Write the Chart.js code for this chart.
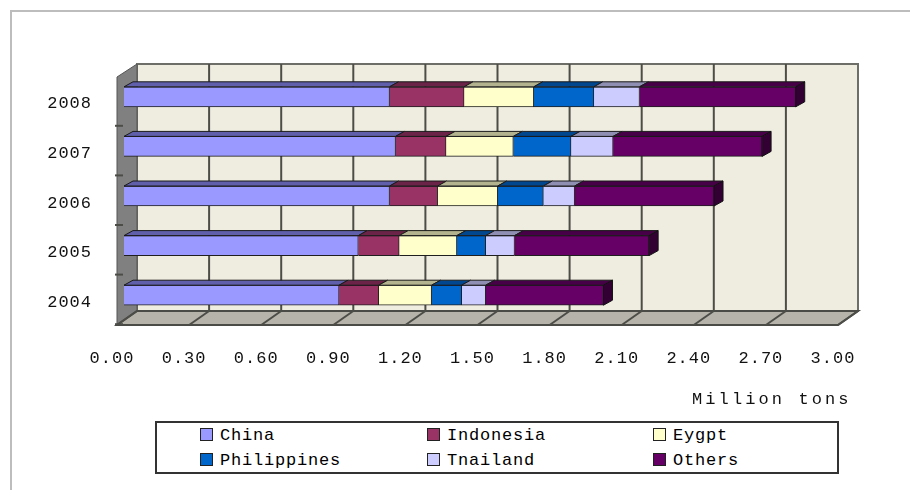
<!DOCTYPE html>
<html>
<head>
<meta charset="utf-8">
<script src="https://cdn.jsdelivr.net/npm/chart.js@4"></script>
<style>
  html, body { margin: 0; padding: 0; background: #fff; }
  #wrap { position: relative; width: 910px; height: 490px; overflow: hidden; filter: blur(0.5px); }
  #frame { position: absolute; left: 10px; top: 10px; width: 900px; height: 480px;
    border-top: 2px solid #bdbdbd; border-left: 2px solid #bdbdbd; box-sizing: border-box; }
  canvas { position: absolute; left: 0; top: 0; }
  #unit { position: absolute; left: 692px; top: 390px; color: #111;
    font: 17px "Liberation Mono", monospace; letter-spacing: 3.1px; white-space: nowrap; }
  #legend { position: absolute; left: 155px; top: 421px; width: 684px; height: 53px;
    border: 2px solid #333; box-sizing: border-box; background: #fff; }
  #legend div { position: absolute; color: #000; white-space: nowrap;
    font: 17px "Liberation Mono", monospace; letter-spacing: 0.8px; line-height: 18px; }
  #legend i { position: absolute; width: 11px; height: 11px; border: 1px solid #222; }
</style>
</head>
<body>
<div id="wrap">
  <div id="frame"></div>
  <canvas id="chart" width="910" height="490"></canvas>
  <div id="unit">Million tons</div>
  <div id="legend"></div>
</div>
<script>
const years = ['2008', '2007', '2006', '2005', '2004']
const xTicks = ['0.00', '0.30', '0.60', '0.90', '1.20', '1.50', '1.80', '2.10', '2.40', '2.70', '3.00']

const china = [1.105, 1.13, 1.105, 0.975, 0.895]
const indonesia = [0.31, 0.21, 0.20, 0.17, 0.165]
const egypt = [0.29, 0.28, 0.25, 0.24, 0.22]
const philippines = [0.25, 0.24, 0.19, 0.12, 0.125]
const thailand = [0.19, 0.175, 0.13, 0.12, 0.10]
const others = [0.65, 0.62, 0.58, 0.56, 0.49]

const seriesNames = ['China', 'Indonesia', 'Eygpt', 'Philippines', 'Tnailand', 'Others']
const seriesValues = [china, indonesia, egypt, philippines, thailand, others]
const colors = ['#9999ff', '#993366', '#ffffcc', '#0066cc', '#ccccff', '#660066']
const topColors = ['#5f5fab', '#6b2447', '#b3b38f', '#00478f', '#8f8fb3', '#470047']

// depth of the fake 3D box and of the bars, in px
const boxDepth = { x: 20, y: 14 }
const barDepth = { x: 9, y: 5 }
const frontShift = 7

function poly(ctx, pts, fill, stroke, width) {
  ctx.beginPath()
  pts.forEach((p, i) => i ? ctx.lineTo(p[0], p[1]) : ctx.moveTo(p[0], p[1]))
  ctx.closePath()
  if (fill) { ctx.fillStyle = fill; ctx.fill() }
  if (stroke) { ctx.strokeStyle = stroke; ctx.lineWidth = width || 1; ctx.stroke() }
}

const letterSpacing = {
  id: 'letterSpacing',
  beforeDraw(chart) { chart.ctx.letterSpacing = '1px' }
}

const box3d = {
  id: 'box3d',
  beforeDatasetsDraw(chart) {
    const ctx = chart.ctx
    const a = chart.chartArea
    const x = chart.scales.x
    const y = chart.scales.y
    const fl = a.left - frontShift, fr = a.right - frontShift
    const ft = 77, fb = 325
    const bl = fl + boxDepth.x, br = fr + boxDepth.x
    const bt = ft - boxDepth.y + 1, bb = fb - boxDepth.y
    ctx.save()
    poly(ctx, [[bl, bt], [br, bt], [br, bb], [bl, bb]], '#efede0', '#6e6e68', 2)
    poly(ctx, [[fl, ft], [bl, bt], [bl, bb], [fl, fb]], '#808080', '#555', 1)
    poly(ctx, [[fl, fb], [fr, fb], [br, bb], [bl, bb]], '#b6b3aa', '#4a4a46', 2)

    ctx.strokeStyle = '#4d4d48'
    ctx.lineWidth = 2
    x.ticks.forEach((t, i) => {
      const px = x.getPixelForTick(i) - frontShift
      if (i > 0 && i < x.ticks.length - 1) {
        ctx.beginPath()
        ctx.moveTo(px + boxDepth.x, bt)
        ctx.lineTo(px + boxDepth.x, bb)
        ctx.stroke()
      }
      ctx.beginPath()
      ctx.moveTo(px + boxDepth.x, bb)
      ctx.lineTo(px, fb)
      ctx.stroke()
    })
    // left wall tick marks, between the categories
    years.forEach((_, i) => {
      const py = y.getPixelForTick(i) + 29
      ctx.beginPath()
      ctx.moveTo(fl - 2, py)
      ctx.lineTo(fl + 6, py)
      ctx.stroke()
    })
    ctx.restore()
  },
  afterDatasetsDraw(chart) {
    const ctx = chart.ctx
    ctx.save()
    chart.data.datasets.forEach((ds, d) => {
      chart.getDatasetMeta(d).data.forEach(bar => {
        const top = bar.y - bar.height / 2
        const bot = bar.y + bar.height / 2
        poly(ctx, [[bar.base, top], [bar.x, top], [bar.x + barDepth.x, top - barDepth.y], [bar.base + barDepth.x, top - barDepth.y]],
          topColors[d], '#1a1a1a', 1)
        if (d === chart.data.datasets.length - 1) {
          poly(ctx, [[bar.x, top], [bar.x + barDepth.x, top - barDepth.y], [bar.x + barDepth.x, bot - barDepth.y], [bar.x, bot]],
            '#330033', '#111', 1)
        }
      })
    })
    ctx.restore()
  }
}

new Chart(document.getElementById('chart'), {
  type: 'bar',
  data: {
    labels: years,
    datasets: seriesNames.map((name, i) => ({
      label: name,
      data: seriesValues[i],
      backgroundColor: colors[i],
      borderColor: '#1f1f1f',
      borderWidth: 1,
      barThickness: 20
    }))
  },
  options: {
    indexAxis: 'y',
    responsive: false,
    animation: false,
    layout: { padding: { top: 72, right: 65, bottom: 0, left: 0 } },
    plugins: { legend: { display: false }, tooltip: { enabled: false } },
    scales: {
      x: {
        stacked: true,
        min: 0,
        max: 3,
        afterFit: s => { s.height = 170 },
        afterBuildTicks: s => { s.ticks = xTicks.map(t => ({ value: parseFloat(t) })) },
        grid: { display: false },
        border: { display: false },
        ticks: {
          maxRotation: 0,
          autoSkip: false,
          padding: 20,
          labelOffset: -12,
          color: '#111',
          font: { family: 'Liberation Mono', size: 17 },
          callback: (v, i) => xTicks[i]
        }
      },
      y: {
        stacked: true,
        afterFit: s => { s.width = 124 },
        grid: { display: false },
        border: { display: false },
        ticks: {
          padding: 24,
          labelOffset: 7,
          color: '#111',
          font: { family: 'Liberation Mono', size: 17 }
        }
      }
    }
  },
  plugins: [letterSpacing, box3d]
})

// legend, laid out like the original 3 x 2 grid
const legend = document.getElementById('legend')
const legendCols = [43, 270, 496]
seriesNames.forEach((name, i) => {
  const col = legendCols[i % 3]
  const row = Math.floor(i / 3)
  const swatch = document.createElement('i')
  swatch.style.left = col + 'px'
  swatch.style.top = (5 + row * 25) + 'px'
  swatch.style.background = colors[i]
  const label = document.createElement('div')
  label.textContent = name
  label.style.left = (col + 20) + 'px'
  label.style.top = (4 + row * 25) + 'px'
  legend.appendChild(swatch)
  legend.appendChild(label)
})
</script>
</body>
</html>
